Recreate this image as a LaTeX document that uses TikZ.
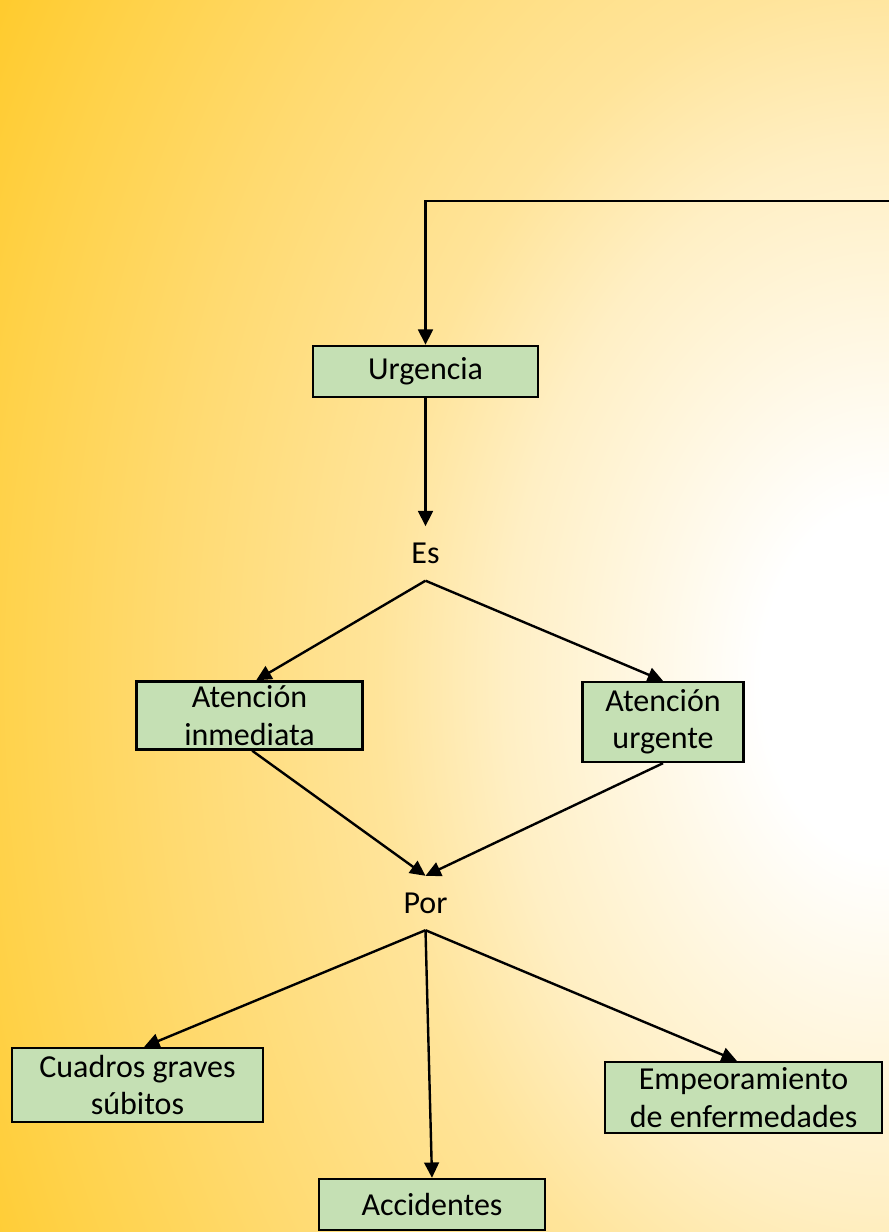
\documentclass[tikz,border=0pt]{standalone}
\usepackage{fontspec}
\setmainfont{Carlito}
\usetikzlibrary{arrows.meta}

\definecolor{boxgreen}{HTML}{C5E0B4}
\definecolor{bgA}{HTML}{FFEFC4}
\definecolor{bgB}{HTML}{FFE49A}
\definecolor{bgC}{HTML}{FFDA70}
\definecolor{bgD}{HTML}{FFD24A}
\definecolor{bgE}{HTML}{FFC822}
\pgfdeclareradialshading{bgshade}{\pgfpoint{0bp}{0bp}}{%
  color(0bp)=(white); color(3bp)=(white);
  color(9bp)=(bgA); color(12bp)=(bgB); color(17bp)=(bgC);
  color(21bp)=(bgD); color(25bp)=(bgE); color(50bp)=(bgE)}

\begin{document}
\begin{tikzpicture}[x=0.75pt, y=-0.75pt, line width=1.8pt,
    every node/.style={font=\fontsize{24}{28}\selectfont, align=center, inner sep=0pt},
    box/.style={draw, line width=1.8pt, fill=boxgreen},
    word/.style={minimum height=39pt},
    arr/.style={-{Triangle[length=11.5pt,width=11pt]}}]
			% page and background
			\useasboundingbox (0,0) rectangle (889,1232);
			\clip (0,0) rectangle (889,1232);
			\fill[bgE] (0,0) rectangle (889,1232);
			\shade[shading=bgshade] (889,680) ellipse (800pt and 1100pt);

			\node[box, minimum width=168.75pt, minimum height=38.25pt] (urg) at (425.5,371.5) {Urgencia};
			\node[word] (es) at (425.5,553.5) {Es};
			\node[box, minimum width=169.5pt, minimum height=51pt] (ati) at (249.5,715.5) {Atención\\inmediata};
			\node[box, minimum width=120.75pt, minimum height=60pt] (atu) at (663,722) {Atención\\urgente};
			\node[word] (por) at (425.5,903) {Por};
			\node[box, minimum width=188.25pt, minimum height=55.5pt] (cua) at (137.5,1085) {Cuadros graves\\súbitos};
			\node[box, minimum width=169.5pt, minimum height=38.25pt] (acc) at (432,1204.5) {Accidentes};
			\node[box, minimum width=207.75pt, minimum height=53.25pt] (emp) at (743.5,1097.5) {Empeoramiento\\de enfermedades};
			\coordinate (ret) at (889,201);

			\draw[arr] (ret) -| (urg.north);
			\path[arr] (urg) edge (es);
			\path[arr] (es.south) edge ([xshift=5pt]ati.north);
			\path[arr] (es.south) edge (atu.north);
			\path[arr] ([xshift=2pt]ati.south) edge (por.north);
			\path[arr] (atu.south) edge (por.north);
			\path[arr] (por.south) edge ([xshift=5pt]cua.north);
			\path[arr] (por.south) edge (acc.north);
			\path[arr] (por.south) edge ([xshift=-5pt]emp.north);
		\end{tikzpicture}
\end{document}
